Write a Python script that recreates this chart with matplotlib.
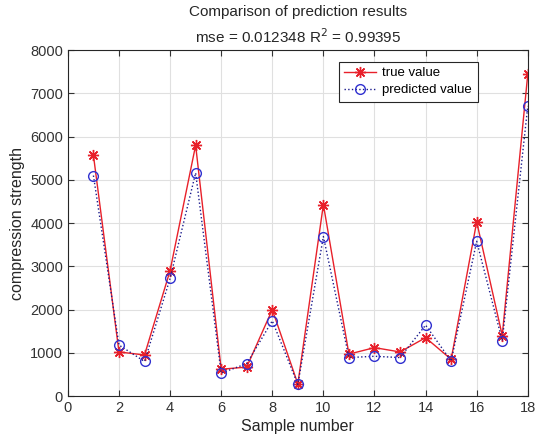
import matplotlib
matplotlib.use("Agg")
import matplotlib.pyplot as plt
import numpy as np

plt.rcParams['font.family'] = ['Liberation Sans', 'DejaVu Sans']

samples = list(range(1, 19))
true_vals = [5570, 1020, 950, 2900, 5800, 620, 670, 2000, 280, 4430,
             970, 1120, 1020, 1350, 850, 4030, 1400, 7450]
pred_vals = [5100, 1180, 800, 2720, 5160, 530, 750, 1740, 270, 3690,
             890, 920, 890, 1640, 810, 3580, 1280, 6710]
xticks = list(range(0, 19, 2))
yticks = list(range(0, 8001, 1000))

fig = plt.figure(figsize=(5.43, 4.44), dpi=100)
ax = fig.add_axes([0.125, 0.108, 0.847, 0.779])

ax.plot(samples, true_vals, '-', color='#e8202a', marker=(8, 2, 0), markersize=8,
        markeredgewidth=1.0, linewidth=1.0, label='true value')
ax.plot(samples, pred_vals, ':', color='#1a1a8c', marker='o', markersize=7,
        markerfacecolor='none', markeredgecolor='#3030d0', linewidth=1.0,
        label='predicted value')

ax.set_xlim(0, 18)
ax.set_ylim(0, 8000)
ax.set_xticks(xticks)
ax.set_yticks(yticks)
ax.grid(True, color='#e0e0e0', linewidth=0.8)
ax.set_axisbelow(True)
ax.tick_params(direction='in', top=True, right=True, labelsize=10.5,
               colors='#333333', length=4)
for s in ax.spines.values():
    s.set_color('#262626')
    s.set_linewidth(0.8)

ax.set_xlabel('Sample number', fontsize=11.5, color='#262626', labelpad=3)
ax.set_ylabel('compression strength', fontsize=11.5, color='#262626', labelpad=4)
ax.set_title('Comparison of prediction results\nmse = 0.012348 R$^2$ = 0.99395',
             fontsize=11, color='#262626', pad=5, linespacing=1.55)

leg = ax.legend(loc='upper right', bbox_to_anchor=(0.905, 0.985), fontsize=9.5,
                fancybox=False, framealpha=1, edgecolor='#262626',
                handlelength=2.4, borderpad=0.4, labelspacing=0.35,
                handletextpad=0.5)
leg.get_frame().set_linewidth(0.8)

fig.savefig('out.png', dpi=100)
